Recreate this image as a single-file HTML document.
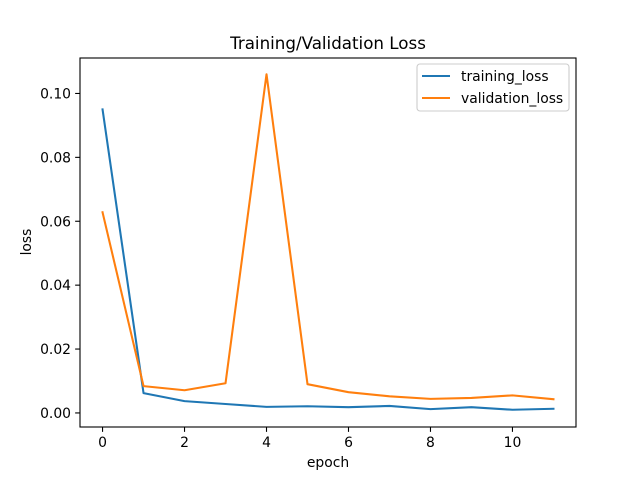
<!DOCTYPE html>
<html><head><meta charset="utf-8"><style>
body{margin:0;background:#fff;}
svg text{font-family:"DejaVu Sans","Liberation Sans",sans-serif;}
</style></head><body>
<svg id="c" width="640" height="480" xmlns="http://www.w3.org/2000/svg"></svg>
<script>
const epochs=[0,1,2,3,4,5,6,7,8,9,10,11];
const trainingLoss=[0.095,0.0062,0.0037,0.0028,0.0019,0.0021,0.0018,0.0022,0.0012,0.0018,0.0010,0.0013];
const validationLoss=[0.0628,0.0084,0.0071,0.0093,0.106,0.0090,0.0065,0.0052,0.0044,0.0047,0.0055,0.0043];
const xTicks=[0,2,4,6,8,10];
const yTicks=[0,0.02,0.04,0.06,0.08,0.10];
const yTickLabels=["0.00","0.02","0.04","0.06","0.08","0.10"];

const svg=document.getElementById('c');
const NS='http://www.w3.org/2000/svg';
const L=80,R=576,T=58,B=427;
const xmin=-0.55,xmax=11.55,ymin=-0.0044,ymax=0.1111;
const X=v=>L+(v-xmin)/(xmax-xmin)*(R-L);
const Y=v=>B-(v-ymin)/(ymax-ymin)*(B-T);
function el(t,a,txt){const e=document.createElementNS(NS,t);for(const k in a)e.setAttribute(k,a[k]);if(txt!==undefined)e.textContent=txt;svg.appendChild(e);return e;}

const title=el('text',{x:328,y:49,'text-anchor':'middle','font-size':16.7},'Training/Validation Loss');



xTicks.forEach(v=>{
  const t=el('line',{x1:X(v),x2:X(v),y1:B,y2:B+4.86,stroke:'#000','stroke-width':1.1});
  
  
  const l=el('text',{x:X(v),y:B+20,'text-anchor':'middle','font-size':13.9},String(v));
  
  
});
yTicks.forEach((v,i)=>{
  const t=el('line',{x1:L-4.86,x2:L,y1:Y(v),y2:Y(v),stroke:'#000','stroke-width':1.1});
  
  
  const l=el('text',{x:L-9,y:Y(v)+5,'text-anchor':'end','font-size':13.9},yTickLabels[i]);
  
  
});
const xt=el('text',{x:328,y:467,'text-anchor':'middle','font-size':13.9},'epoch');


const yt=el('text',{x:31,y:242,'text-anchor':'middle','font-size':13.9,transform:'rotate(-90 31 242)'},'loss');



function line(vals,color,name){
  const p=el('polyline',{points:epochs.map((e,i)=>X(e)+','+Y(vals[i])).join(' '),fill:'none',stroke:color,'stroke-width':2.08,'stroke-linejoin':'round','stroke-linecap':'square'});
  
  
}
line(trainingLoss,'#1f77b4','training-loss-line');
line(validationLoss,'#ff7f0e','validation-loss-line');

const frame=el('rect',{x:L,y:T,width:R-L,height:B-T,fill:'none',stroke:'#000','stroke-width':1.1});



const lg=el('rect',{x:417,y:64,width:152,height:47,rx:3,fill:'#fff','fill-opacity':0.8,stroke:'#ccc','stroke-width':1.1});


[['training_loss','#1f77b4',76],['validation_loss','#ff7f0e',98]].forEach(([n,c,y])=>{
  const s=el('line',{x1:422,x2:450,y1:y,y2:y,stroke:c,'stroke-width':2.08});
  
  
  const t=el('text',{x:461,y:y+5,'font-size':13.9},n);
  
  
});
</script>
</body></html>
